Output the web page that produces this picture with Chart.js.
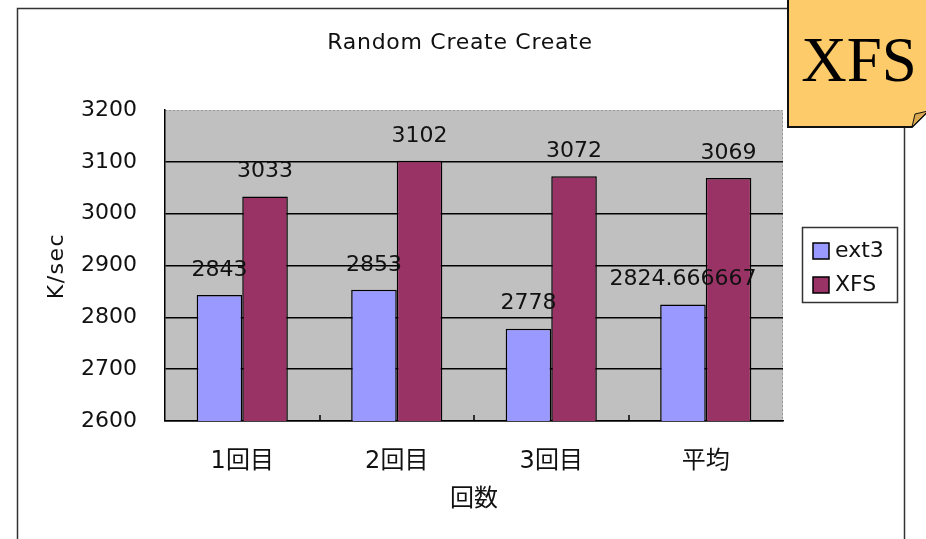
<!DOCTYPE html>
<html lang="ja">
<head>
<meta charset="UTF-8">
<title>Random Create Create</title>
<script src="https://cdn.jsdelivr.net/npm/chart.js"></script>
<style>
    html, body { margin: 0; padding: 0; background: #fff; }
    #wrap { width: 926px; height: 539px; position: relative; }
</style>
</head>
<body>
<div id="wrap"><canvas id="chart" width="926" height="539"></canvas></div>
<script>
    const categories = ['1回目', '2回目', '3回目', '平均'];
    const ext3Values = [2843, 2853, 2778, 2824.666667];
    const xfsValues = [3033, 3102, 3072, 3069];
    const yTicks = [2600, 2700, 2800, 2900, 3000, 3100, 3200];

    const NUM_FONT = "'DejaVu Sans', 'Noto Sans CJK JP', sans-serif";

    // gray plot area + dotted top/right edge, category ticks on the bottom axis
    const plotBg = {
        id: 'plotBg',
        beforeDraw(chart) {
            const { ctx, chartArea: a } = chart;
            ctx.save();
            ctx.fillStyle = '#c0c0c0';
            ctx.fillRect(a.left, a.top, a.right - a.left, a.bottom - a.top);
            ctx.strokeStyle = '#9a9a9a';
            ctx.lineWidth = 1;
            ctx.setLineDash([2, 2]);
            ctx.beginPath();
            ctx.moveTo(a.left, a.top + 0.5);
            ctx.lineTo(a.right - 0.5, a.top + 0.5);
            ctx.lineTo(a.right - 0.5, a.bottom);
            ctx.stroke();
            ctx.restore();
        },
        afterDatasetsDraw(chart) {
            const { ctx, chartArea: a } = chart;
            const step = (a.right - a.left) / categories.length;
            ctx.save();
            ctx.strokeStyle = '#000';
            ctx.lineWidth = 1.5;
            ctx.beginPath();
            for (let i = 1; i < categories.length; i++) {
                const x = Math.round(a.left + step * i);
                ctx.moveTo(x, a.bottom);
                ctx.lineTo(x, a.bottom - 6);
            }
            ctx.stroke();
            ctx.restore();
        }
    };

    // value labels, titles, legend, frame and the sticky note
    const extras = {
        id: 'extras',
        afterDraw(chart) {
            const ctx = chart.ctx;
            ctx.save();

            // data labels
            ctx.fillStyle = '#111';
            ctx.font = '22px ' + NUM_FONT;
            ctx.textAlign = 'center';
            ctx.textBaseline = 'middle';
            chart.data.datasets.forEach((ds, di) => {
                chart.getDatasetMeta(di).data.forEach((bar, i) => {
                    ctx.fillText(String(ds.data[i]), bar.x, bar.y - 25);
                });
            });

            // chart title
            ctx.font = '22px ' + NUM_FONT;
            ctx.letterSpacing = '0.7px';
            ctx.fillText('Random Create Create', 460, 43);
            ctx.letterSpacing = '0px';

            // axis titles
            ctx.font = '24px ' + NUM_FONT;
            ctx.fillText('回数', 474, 500);
            ctx.save();
            ctx.translate(57, 266);
            ctx.rotate(-Math.PI / 2);
            ctx.font = '22px ' + NUM_FONT;
            ctx.letterSpacing = '1.5px';
            ctx.fillText('K/sec', 0, 0);
            ctx.restore();

            // outer frame
            ctx.strokeStyle = '#333';
            ctx.lineWidth = 1.5;
            ctx.strokeRect(17.5, 8.5, 887, 600);

            // legend
            ctx.strokeRect(802.5, 227.5, 95, 75);
            const items = [
                { label: 'ext3', color: '#9999ff', y: 251 },
                { label: 'XFS', color: '#993366', y: 285 }
            ];
            ctx.textAlign = 'left';
            ctx.font = '22px ' + NUM_FONT;
            items.forEach(it => {
                ctx.fillStyle = it.color;
                ctx.fillRect(813, it.y - 8, 16, 16);
                ctx.strokeStyle = '#000';
                ctx.lineWidth = 1.5;
                ctx.strokeRect(813, it.y - 8, 16, 16);
                ctx.fillStyle = '#111';
                ctx.fillText(it.label, 835, it.y);
            });

            // sticky note
            ctx.beginPath();
            ctx.moveTo(788, -2);
            ctx.lineTo(928, -2);
            ctx.lineTo(928, 111);
            ctx.lineTo(912, 127);
            ctx.lineTo(788, 127);
            ctx.closePath();
            ctx.fillStyle = '#fdcb69';
            ctx.fill();
            ctx.strokeStyle = '#111';
            ctx.lineWidth = 2;
            ctx.stroke();
            ctx.beginPath();
            ctx.moveTo(912, 127);
            ctx.lineTo(915, 114);
            ctx.lineTo(928, 111);
            ctx.closePath();
            ctx.fillStyle = '#d7a850';
            ctx.fill();
            ctx.lineWidth = 1;
            ctx.stroke();
            ctx.fillStyle = '#000';
            ctx.font = '63px "Liberation Serif", "DejaVu Serif", serif';
            ctx.textAlign = 'center';
            ctx.textBaseline = 'alphabetic';
            ctx.fillText('XFS', 859, 81);

            ctx.restore();
        }
    };

    new Chart(document.getElementById('chart'), {
        type: 'bar',
        data: {
            labels: categories,
            datasets: [
                { label: 'ext3', data: ext3Values, backgroundColor: '#9999ff', borderColor: '#000', borderWidth: 1.5 },
                { label: 'XFS', data: xfsValues, backgroundColor: '#993366', borderColor: '#000', borderWidth: 1.5 }
            ]
        },
        options: {
            responsive: false,
            animation: false,
            events: [],
            categoryPercentage: 0.59,
            barPercentage: 1,
            layout: { padding: { top: 110, right: 143, left: 0, bottom: 0 } },
            plugins: {
                legend: { display: false },
                title: { display: false },
                tooltip: { enabled: false }
            },
            scales: {
                x: {
                    afterFit(scale) { scale.height = 118; },
                    grid: { display: false, drawTicks: false },
                    border: { display: true, color: '#000', width: 1.5 },
                    ticks: { color: '#111', padding: 26, font: { family: NUM_FONT, size: 24 } }
                },
                y: {
                    min: yTicks[0],
                    max: yTicks[yTicks.length - 1],
                    afterFit(scale) { scale.width = 165; },
                    afterBuildTicks(scale) { scale.ticks = yTicks.map(v => ({ value: v })); },
                    grid: {
                        drawTicks: false,
                        color: ctx => ctx.tick && ctx.tick.value === 3200 ? 'rgba(0,0,0,0)' : '#000',
                        lineWidth: 1.5
                    },
                    border: { display: true, color: '#000', width: 1.5 },
                    ticks: {
                        color: '#111',
                        padding: 28,
                        font: { family: NUM_FONT, size: 22 },
                        callback: v => String(v)
                    }
                }
            }
        },
        plugins: [plotBg, extras]
    });
</script>
</body>
</html>
